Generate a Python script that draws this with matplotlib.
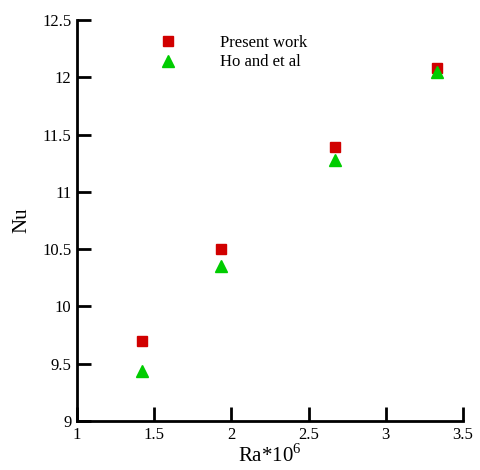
import numpy as np
import matplotlib
matplotlib.use("Agg")
import matplotlib.pyplot as plt

# Average Nusselt number versus Rayleigh number
ra = [1.42, 1.93, 2.67, 3.33]
nu_present = [9.70, 10.50, 11.39, 12.08]
nu_ho = [9.44, 10.35, 11.28, 12.05]

x_ticks = [1, 1.5, 2, 2.5, 3, 3.5]
y_ticks = [9, 9.5, 10, 10.5, 11, 11.5, 12, 12.5]

plt.rcParams["font.family"] = ["Liberation Serif", "DejaVu Serif"]
plt.rcParams["mathtext.fontset"] = "custom"
plt.rcParams["mathtext.rm"] = "Liberation Serif"

fig = plt.figure(figsize=(4.8, 4.7), dpi=100)
ax = fig.add_axes([0.1604, 0.1043, 0.8042, 0.8531])

ax.plot(ra, nu_present, linestyle="none", marker="s", markersize=7.5,
        color="#d10000", label="Present work")
ax.plot(ra, nu_ho, linestyle="none", marker="^", markersize=8.5,
        color="#00cc00", label="Ho and et al")

ax.set_xlim(1, 3.5)
ax.set_ylim(9, 12.5)
ax.set_xticks(x_ticks)
ax.set_yticks(y_ticks)
ax.set_xticklabels(["%g" % v for v in x_ticks])
ax.set_yticklabels(["%g" % v for v in y_ticks])

for side in ["top", "right"]:
    ax.spines[side].set_visible(False)
for side in ["left", "bottom"]:
    ax.spines[side].set_linewidth(2)
ax.tick_params(direction="in", length=10, width=2, labelsize=12, pad=4)

ax.set_xlabel(r"Ra*10$^{6}$", fontsize=15, labelpad=1)
ax.set_ylabel("Nu", fontsize=15, labelpad=8)

ax.legend(frameon=False, loc="upper left", bbox_to_anchor=(0.175, 1.0),
          handlelength=1.0, handletextpad=2.6, labelspacing=0.2,
          fontsize=12, numpoints=1)

fig.savefig("out.png", dpi=100)
